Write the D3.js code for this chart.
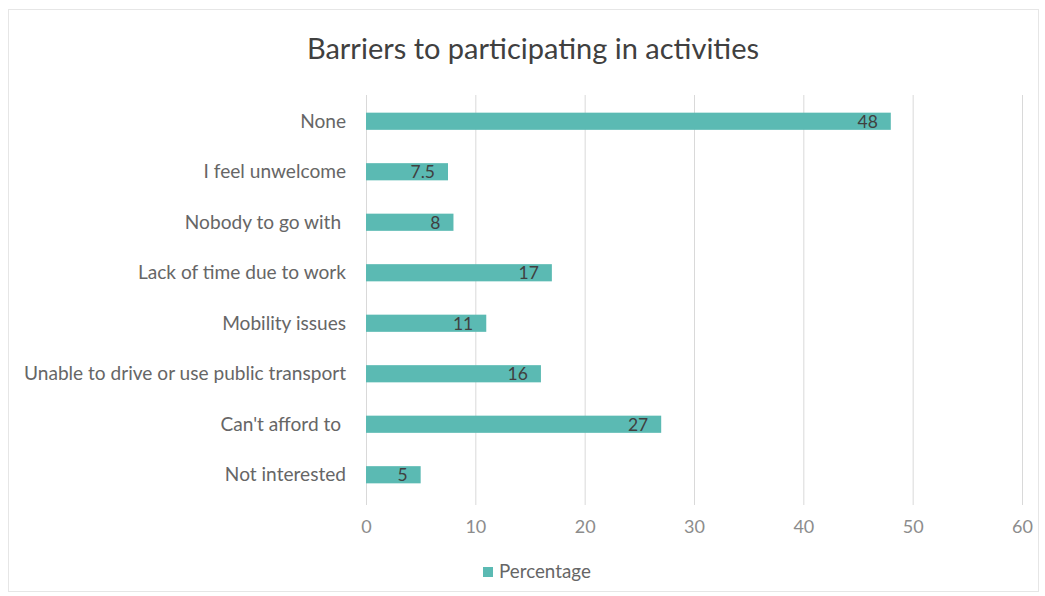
<!DOCTYPE html>
<html><head><meta charset="utf-8">
<script src="https://cdn.jsdelivr.net/npm/d3@7"></script>
<style>body{margin:0;background:#fff}svg{display:block}</style>
</head><body>
<script>
const categories = ["None","I feel unwelcome","Nobody to go with ","Lack of time due to work","Mobility issues","Unable to drive or use public transport","Can't afford to ","Not interested"];
const values = [48,7.5,8,17,11,16,27,5];
const labels = ["48","7.5","8","17","11","16","27","5"];
const ticks = [0,10,20,30,40,50,60];
const seriesName = "Percentage";

const W=1045,H=596;
const svg=d3.select("body").append("svg").attr("width",W).attr("height",H);
const font="Lato, 'Open Sans', sans-serif";
svg.append("rect").attr("x",8.5).attr("y",9.5).attr("width",1030).attr("height",582).attr("fill","#fff").attr("stroke","#e6e6e6");

const x=d3.scaleLinear().domain([0,60]).range([366,1022]);
const y=d3.scaleBand().domain(categories).range([96,500]).paddingInner(0.66).paddingOuter(0.33);

svg.append("text").attr("x",533).attr("y",59).attr("text-anchor","middle").attr("font-family",font).attr("font-size",29).attr("fill","#404040").text("Barriers to participating in activities");

const grid=svg.append("g");
grid.selectAll("line").data(ticks).join("line").attr("x1",d=>x(d)+0.5).attr("x2",d=>x(d)+0.5).attr("y1",95).attr("y2",505).attr("stroke","#d9d9d9").attr("stroke-width",1);

const xa=svg.append("g").attr("transform","translate(0,505)").call(d3.axisBottom(x).tickValues(ticks).tickSize(0).tickPadding(0));
xa.select(".domain").remove();
xa.selectAll("text").attr("dy",null).attr("y",28).attr("font-family",font).attr("font-size",18).attr("fill","#8c8c8c");

const ya=svg.append("g").attr("transform","translate(346,0)").call(d3.axisLeft(y).tickSize(0).tickPadding(0));
ya.select(".domain").remove();
ya.selectAll("text").attr("font-family",font).attr("font-size",19.1).attr("fill","#666666").attr("dy","0.35em").style("white-space","pre").attr("xml:space","preserve");

const data=categories.map((c,i)=>({c,v:values[i],l:labels[i]}));
svg.append("g").selectAll("rect").data(data).join("rect")
 .attr("x",x(0)).attr("y",d=>y(d.c)).attr("width",d=>x(d.v)-x(0)).attr("height",y.bandwidth()).attr("fill","#5bbab3");
svg.append("g").selectAll("text").data(data).join("text")
 .attr("x",d=>x(d.v)-13).attr("y",d=>y(d.c)+y.bandwidth()/2).attr("dy","0.36em").attr("text-anchor","end")
 .attr("font-family",font).attr("font-size",17.5).attr("fill","#404040").text(d=>d.l);

const lg=svg.append("g");
lg.append("rect").attr("x",483).attr("y",567).attr("width",10).attr("height",10).attr("fill","#5bbab3");
lg.append("text").attr("x",499).attr("y",578).attr("font-family",font).attr("font-size",18.8).attr("fill","#666666").text(seriesName);
</script>
</body></html>
